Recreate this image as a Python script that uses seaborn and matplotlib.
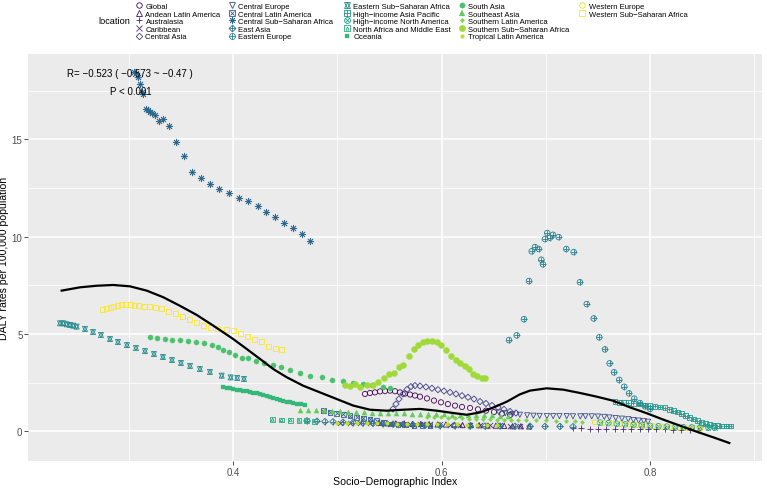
import numpy as np
import pandas as pd
import matplotlib
matplotlib.use("Agg")
import matplotlib.pyplot as plt
from matplotlib.lines import Line2D
from matplotlib.legend_handler import HandlerTuple
import seaborn as sns

M = "\u2212"
locations = ["Global", "Andean Latin America", "Australasia", "Caribbean", "Central Asia",
             "Central Europe", "Central Latin America", f"Central Sub{M}Saharan Africa", "East Asia",
             "Eastern Europe", f"Eastern Sub{M}Saharan Africa", f"High{M}income Asia Pacific",
             f"High{M}income North America", "North Africa and Middle East", "Oceania", "South Asia",
             "Southeast Asia", "Southern Latin America", f"Southern Sub{M}Saharan Africa",
             "Tropical Latin America", "Western Europe", f"Western Sub{M}Saharan Africa"]

global_sdi = [0.5264,0.5312,0.5360,0.5408,0.5456,0.5504,0.5552,0.5600,0.5648,0.5696,0.5744,0.5792,0.5859,0.5926,0.5993,0.6060,0.6128,0.6195,0.6272,0.6348,0.6425,0.6502,0.6579,0.6656]
global_daly = [1.92,1.97,2.00,2.05,2.07,2.09,2.06,2.00,1.94,1.89,1.84,1.78,1.69,1.58,1.49,1.40,1.32,1.25,1.20,1.13,1.06,0.99,0.91,0.84]
andean_sdi = [0.540,0.548,0.556,0.564,0.572,0.580,0.588,0.596,0.604,0.612,0.620,0.628,0.636,0.644,0.652,0.660,0.668,0.676,0.684]
andean_daly = [0.43,0.41,0.41,0.40,0.38,0.38,0.37,0.35,0.35,0.34,0.32,0.32,0.31,0.29,0.29,0.28,0.26,0.26,0.25]
austral_sdi = [0.7260,0.7340,0.7420,0.7500,0.7580,0.7660,0.7740,0.7820,0.7900,0.7980,0.8060,0.8140,0.8220,0.8300,0.8380,0.8460]
austral_daly = [0.15,0.15,0.14,0.14,0.13,0.13,0.12,0.12,0.11,0.11,0.10,0.10,0.09,0.09,0.08,0.07]
carib_sdi = [0.5024,0.5120,0.5216,0.5312,0.5408,0.5504,0.5600,0.5696,0.5792,0.5888,0.5984,0.6080,0.6176,0.6272,0.6368,0.6464,0.6560,0.6656,0.6752]
carib_daly = [0.45,0.44,0.43,0.42,0.41,0.40,0.39,0.38,0.37,0.36,0.35,0.34,0.33,0.32,0.31,0.30,0.30,0.29,0.28]
casia_sdi = [0.5533,0.5561,0.5590,0.5629,0.5667,0.5705,0.5744,0.5792,0.5849,0.5907,0.5964,0.6022,0.6080,0.6137,0.6195,0.6253,0.6310,0.6368,0.6425,0.6483,0.6540,0.6598,0.6656,0.6713]
casia_daly = [1.15,1.40,1.66,1.92,2.15,2.30,2.35,2.33,2.28,2.21,2.14,2.07,2.00,1.92,1.83,1.75,1.66,1.53,1.43,1.33,1.23,1.13,1.02,0.94]
ceurope_sdi = [0.655,0.661,0.668,0.675,0.682,0.688,0.694,0.701,0.707,0.713,0.720,0.726,0.733,0.738,0.744,0.750,0.756,0.761,0.767,0.773,0.779,0.784,0.789,0.794,0.798]
ceurope_daly = [0.97,0.93,0.89,0.85,0.82,0.80,0.79,0.78,0.78,0.78,0.78,0.77,0.77,0.77,0.77,0.76,0.74,0.71,0.68,0.65,0.62,0.58,0.55,0.52,0.49]
clatam_sdi = [0.4864,0.4928,0.4992,0.5056,0.5120,0.5184,0.5248,0.5312,0.5376,0.5440,0.5504,0.5581,0.5657,0.5734,0.5811,0.5888]
clatam_daly = [1.06,0.98,0.92,0.87,0.80,0.72,0.67,0.63,0.54,0.46,0.38,0.35,0.33,0.31,0.30,0.29]
cssa_sdi = [0.3050,0.3066,0.3088,0.3105,0.3121,0.3136,0.3159,0.3178,0.3201,0.3223,0.3246,0.3287,0.3328,0.3386,0.3450,0.3524,0.3607,0.3693,0.3776,0.3863,0.3956,0.4052,0.4144,0.4234,0.4317,0.4397,0.4487,0.4573,0.4659,0.4736]
cssa_daly = [18.45,18.41,18.19,17.85,17.45,17.33,16.56,16.50,16.42,16.36,16.24,15.96,16.05,15.69,14.87,14.13,13.33,13.03,12.72,12.44,12.23,12.00,11.82,11.59,11.27,11.00,10.70,10.45,10.14,9.78]
easia_sdi = [0.4707,0.4803,0.4880,0.4957,0.5053,0.5149,0.5245,0.5341,0.5437,0.5533,0.5629,0.5725,0.5840,0.5984,0.6128,0.6272,0.6416,0.6560,0.6704,0.6848,0.6991,0.7135,0.7260]
easia_daly = [0.54,0.52,0.50,0.49,0.47,0.45,0.43,0.41,0.39,0.37,0.35,0.33,0.31,0.29,0.28,0.27,0.27,0.27,0.26,0.26,0.25,0.25,0.24]
eeurope_sdi = [0.6646,0.6720,0.6790,0.6838,0.6864,0.6895,0.6931,0.6956,0.6972,0.6991,0.7013,0.7039,0.7068,0.7123,0.7196,0.7267,0.7327,0.7392,0.7459,0.7512,0.7567,0.7612,0.7654,0.7704,0.7752,0.7798,0.7848,0.7903,0.7951,0.8000]
eeurope_daly = [4.69,4.93,5.76,7.72,9.25,9.47,9.37,8.82,8.58,9.88,10.19,9.95,10.10,9.98,9.37,9.21,7.66,6.54,5.80,4.83,4.21,3.49,3.03,2.64,2.29,1.95,1.68,1.45,1.28,1.15]
essa_sdi = [0.2337,0.2369,0.2401,0.2433,0.2464,0.2497,0.2577,0.2654,0.2730,0.2817,0.2893,0.2980,0.3066,0.3153,0.3239,0.3325,0.3412,0.3498,0.3585,0.3680,0.3776,0.3889,0.3975,0.4038,0.4103]
essa_daly = [5.55,5.55,5.50,5.46,5.43,5.38,5.26,5.10,4.95,4.74,4.59,4.43,4.28,4.12,3.97,3.82,3.66,3.51,3.36,3.20,3.05,2.86,2.77,2.74,2.69]
hiap_sdi = [0.7663,0.7703,0.7743,0.7790,0.7839,0.7895,0.7951,0.8000,0.8047,0.8095,0.8143,0.8183,0.8223,0.8260,0.8299,0.8338,0.8376,0.8415,0.8453,0.8490,0.8530,0.8570,0.8606,0.8645,0.8683,0.8730,0.8772]
hiap_daly = [1.52,1.50,1.47,1.46,1.44,1.40,1.35,1.31,1.28,1.25,1.21,1.14,1.06,0.99,0.91,0.81,0.72,0.63,0.55,0.47,0.39,0.34,0.31,0.29,0.27,0.27,0.27]
hina_sdi = [0.7520,0.7600,0.7680,0.7760,0.7840,0.7920,0.8000,0.8080,0.8160,0.8240,0.8320,0.8400,0.8480,0.8560,0.8620]
hina_daly = [0.45,0.42,0.39,0.36,0.33,0.30,0.28,0.26,0.24,0.22,0.21,0.20,0.20,0.19,0.19]
name_sdi = [0.4378,0.4464,0.4550,0.4630,0.4700,0.4780]
name_daly = [0.60,0.58,0.57,0.55,0.54,0.52]
oceania_sdi = [0.3904,0.3936,0.3968,0.4000,0.4033,0.4065,0.4096,0.4128,0.4160,0.4192,0.4225,0.4256,0.4288,0.4320,0.4352,0.4384,0.4417,0.4448,0.4480,0.4512,0.4544,0.4576,0.4608,0.4648,0.4688]
oceania_daly = [2.26,2.24,2.21,2.18,2.14,2.11,2.09,2.06,2.03,1.99,1.95,1.91,1.87,1.83,1.78,1.72,1.66,1.62,1.57,1.53,1.49,1.45,1.40,1.38,1.35]
sasia_sdi = [0.3201,0.3268,0.3345,0.3412,0.3489,0.3565,0.3642,0.3719,0.3796,0.3853,0.3904,0.3962,0.4016,0.4081,0.4144,0.4218,0.4295,0.4378,0.4458,0.4544,0.4640,0.4736,0.4848,0.4944,0.5056,0.5152,0.5248,0.5328,0.5434,0.5504]
sasia_daly = [4.85,4.79,4.74,4.69,4.67,4.64,4.61,4.56,4.46,4.33,4.19,4.06,3.94,3.77,3.75,3.63,3.53,3.41,3.29,3.15,2.98,2.86,2.78,2.65,2.57,2.48,2.42,2.38,2.29,2.21]
seasia_sdi = [0.4640,0.4717,0.4794,0.4870,0.4947,0.5024,0.5101,0.5178,0.5254,0.5331,0.5408,0.5485,0.5562,0.5639,0.5715,0.5792,0.5869,0.5946,0.6022,0.6099,0.6176,0.6253,0.6329,0.6406,0.6483,0.6560,0.6637]
seasia_daly = [1.11,1.10,1.08,1.07,1.05,1.03,1.01,0.99,0.98,0.96,0.95,0.94,0.93,0.92,0.91,0.90,0.89,0.88,0.87,0.86,0.85,0.84,0.83,0.82,0.82,0.81,0.80]
slatam_sdi = [0.5859,0.5926,0.5993,0.6060,0.6128,0.6195,0.6262,0.6329,0.6396,0.6464,0.6531,0.6598,0.6665,0.6732,0.6809,0.6905,0.7001,0.7097,0.7193,0.7279,0.7346]
slatam_daly = [0.76,0.74,0.72,0.70,0.68,0.66,0.64,0.63,0.62,0.61,0.60,0.60,0.59,0.58,0.58,0.57,0.56,0.55,0.53,0.51,0.49]
sssa_sdi = [0.5072,0.5120,0.5168,0.5216,0.5280,0.5344,0.5392,0.5446,0.5497,0.5542,0.5590,0.5631,0.5683,0.5734,0.5775,0.5823,0.5862,0.5910,0.5952,0.5993,0.6041,0.6089,0.6134,0.6176,0.6224,0.6265,0.6303,0.6342,0.6384,0.6416]
sssa_daly = [2.38,2.34,2.43,2.29,2.38,2.38,2.55,2.76,2.94,2.99,3.28,3.40,3.88,4.23,4.43,4.61,4.66,4.64,4.61,4.41,4.20,3.88,3.68,3.51,3.37,3.20,2.94,2.82,2.72,2.72]
tlatam_sdi = [0.4992,0.5088,0.5184,0.5280,0.5376,0.5472,0.5568,0.5664,0.5760,0.5856,0.5952,0.6048,0.6144,0.6240,0.6336,0.6432,0.6528]
tlatam_daly = [0.45,0.44,0.44,0.43,0.42,0.41,0.40,0.39,0.39,0.38,0.37,0.36,0.35,0.34,0.33,0.32,0.31]
weurope_sdi = [0.7471,0.7550,0.7630,0.7710,0.7790,0.7870,0.7950,0.8030,0.8110,0.8190,0.8270,0.8350,0.8430,0.8480]
weurope_daly = [0.46,0.44,0.41,0.38,0.35,0.32,0.29,0.26,0.23,0.20,0.18,0.16,0.14,0.12]
wssa_sdi = [0.2747,0.2785,0.2820,0.2855,0.2891,0.2929,0.2967,0.3009,0.3050,0.3092,0.3146,0.3198,0.3255,0.3313,0.3380,0.3443,0.3511,0.3578,0.3645,0.3712,0.3779,0.3853,0.3937,0.4000,0.4071,0.4138,0.4205,0.4273,0.4340,0.4407,0.4467]
wssa_daly = [6.25,6.32,6.37,6.42,6.49,6.51,6.51,6.51,6.49,6.45,6.42,6.39,6.35,6.29,6.18,6.03,5.89,5.74,5.58,5.43,5.34,5.28,5.22,5.17,5.02,4.88,4.74,4.60,4.38,4.28,4.21]

smooth_sdi = [0.2353,0.2529,0.2689,0.2848,0.3009,0.3169,0.3328,0.3488,0.3649,0.3808,0.4000,0.4129,0.4256,0.4384,0.4512,0.4672,0.4832,0.4992,0.5152,0.5312,0.5472,0.5631,0.5792,0.5952,0.6111,0.6240,0.6368,0.6495,0.6624,0.6751,0.6847,0.7008,0.7167,0.7327,0.7488,0.7647,0.7807,0.7967,0.8127,0.8287,0.8447,0.8607,0.8760]
smooth_daly = [7.23,7.40,7.48,7.52,7.45,7.23,6.89,6.45,5.98,5.43,4.74,4.23,3.72,3.20,2.78,2.34,2.00,1.66,1.32,1.11,1.06,1.11,1.15,1.06,0.94,0.85,0.97,1.22,1.52,1.90,2.09,2.21,2.14,1.97,1.78,1.57,1.23,0.93,0.60,0.29,-0.02,-0.31,-0.60]

r_label = f"R= {M}0.523 ( {M}0.573 ~ {M}0.47 )"
p_label = "P < 0.001"

series = [(global_sdi, global_daly), (andean_sdi, andean_daly), (austral_sdi, austral_daly),
          (carib_sdi, carib_daly), (casia_sdi, casia_daly), (ceurope_sdi, ceurope_daly),
          (clatam_sdi, clatam_daly), (cssa_sdi, cssa_daly), (easia_sdi, easia_daly),
          (eeurope_sdi, eeurope_daly), (essa_sdi, essa_daly), (hiap_sdi, hiap_daly),
          (hina_sdi, hina_daly), (name_sdi, name_daly), (oceania_sdi, oceania_daly),
          (sasia_sdi, sasia_daly), (seasia_sdi, seasia_daly), (slatam_sdi, slatam_daly),
          (sssa_sdi, sssa_daly), (tlatam_sdi, tlatam_daly), (weurope_sdi, weurope_daly),
          (wssa_sdi, wssa_daly)]
df = pd.concat([pd.DataFrame({"location": loc, "sdi": s, "daly": d})
                for loc, (s, d) in zip(locations, series)], ignore_index=True)

# marker layers: (marker, filled?, size)
AST = (8, 2, 0)
shapes = [
    [("o", False, 14)], [("^", False, 14)], [("+", None, 22)], [("x", None, 14)],
    [("D", False, 10)], [("v", False, 14)], [("s", False, 12), ("x", None, 10)],
    [(AST, None, 22)], [("D", False, 11), ("+", None, 14)], [("o", False, 16), ("+", None, 16)],
    [("^", False, 13), ("v", False, 13)], [("s", False, 12), ("+", None, 12)],
    [("o", False, 16), ("x", None, 10)], [("s", False, 12), ("^", False, 5)],
    [("s", True, 11)], [("o", True, 14)], [("^", True, 14)], [("D", True, 5)],
    [("o", True, 20)], [("o", True, 7)], [("o", False, 14)], [("s", False, 13)],
]
colors = [matplotlib.colormaps["viridis"](v) for v in np.linspace(0, 1, len(locations))]

plt.rcParams["font.family"] = ["Liberation Sans", "DejaVu Sans"]
fig = plt.figure(figsize=(7.67, 4.89), dpi=100)
L, R, T, B = 28, 762, 55, 462
ax = fig.add_axes([L / 767, 1 - B / 489, (R - L) / 767, (B - T) / 489])
ax.set_facecolor("#EBEBEB")
for sp in ax.spines.values():
    sp.set_visible(False)

for i, loc in enumerate(locations):
    sub = df[df["location"] == loc]
    for m, filled, s in shapes[i]:
        kw = dict(color=colors[i], s=s, marker=m, zorder=3 + i * 0.01)
        if filled is False:
            kw.update(facecolor="none", edgecolor=colors[i], linewidth=0.6)
        elif filled is True:
            kw.update(edgecolor=colors[i], linewidth=0.2)
        else:
            kw.update(linewidth=0.6)
        sns.scatterplot(data=sub, x="sdi", y="daly", ax=ax, legend=False, **kw)

sns.lineplot(x=smooth_sdi, y=smooth_daly, ax=ax, sort=False, estimator=None,
             color="black", linewidth=1.6, zorder=5)

ax.set_xlim(0.2030, 0.9074)
ax.set_ylim(-1.526, 19.39)
ax.set_xticks([0.4, 0.6, 0.8])
ax.set_xticklabels(["0.4", "0.6", "0.8"])
ax.set_xticks([0.3, 0.5, 0.7, 0.9], minor=True)
ax.set_yticks([0, 5, 10, 15])
ax.set_yticklabels(["0", "5", "10", "15"])
ax.set_yticks([2.5, 7.5, 12.5, 17.5], minor=True)
ax.grid(which="major", color="white", linewidth=1.1, zorder=0)
ax.grid(which="minor", color="white", linewidth=0.55, zorder=0)
ax.set_axisbelow(True)
ax.tick_params(which="major", length=2.8, width=0.6, color="#333333", labelsize=7,
               labelcolor="#4D4D4D", pad=1.2)
ax.tick_params(which="minor", length=0)
ax.set_xlabel("Socio\u2212Demographic Index", fontsize=7.6, color="black")
ax.set_ylabel("DALY rates per 100,000 population", fontsize=7.6, color="black")
ax.xaxis.set_label_coords(0.5, (B - 477.5) / (B - T))
ax.yaxis.set_label_coords((9.5 - L) / (R - L), 0.5)

ax.text(0.3012, 18.4, r_label, fontsize=7, ha="center", va="center", zorder=6)
ax.text(0.3012, 17.5, p_label, fontsize=7, ha="center", va="center", zorder=6)

# legend: 5 columns of 5 entries, title on the left
handles = []
for i, loc in enumerate(locations):
    parts = []
    for m, filled, s in shapes[i]:
        ms = np.sqrt(s) * 1.05
        if filled is False:
            parts.append(Line2D([], [], marker=m, linestyle="none", markersize=ms,
                                markerfacecolor="none", markeredgecolor=colors[i], markeredgewidth=0.6))
        elif filled is True:
            parts.append(Line2D([], [], marker=m, linestyle="none", markersize=ms,
                                markerfacecolor=colors[i], markeredgecolor=colors[i], markeredgewidth=0.2))
        else:
            parts.append(Line2D([], [], marker=m, linestyle="none", markersize=ms,
                                color=colors[i], markeredgewidth=0.6))
    handles.append(tuple(parts) if len(parts) > 1 else parts[0])

col_marker_x = [139, 231.7, 346.7, 461.7, 582.3]
font_px = 5.5 * 100 / 72
hl = 1.0
for c in range(5):
    hs = handles[c * 5:(c + 1) * 5]
    ls = locations[c * 5:(c + 1) * 5]
    x_left = col_marker_x[c] - hl * font_px / 2
    fig.legend(hs, ls, loc="upper left", bbox_to_anchor=(x_left / 767, 1 - 3.6 / 489),
               frameon=False, fontsize=5.5, handlelength=hl, handletextpad=0.35,
               labelspacing=0.03, borderpad=0, borderaxespad=0,
               handler_map={tuple: HandlerTuple(ndivide=1)})
fig.text(114 / 767, 1 - 21.5 / 489, "location", fontsize=6.6, ha="center", va="center")

fig.savefig("out.png", dpi=100)
